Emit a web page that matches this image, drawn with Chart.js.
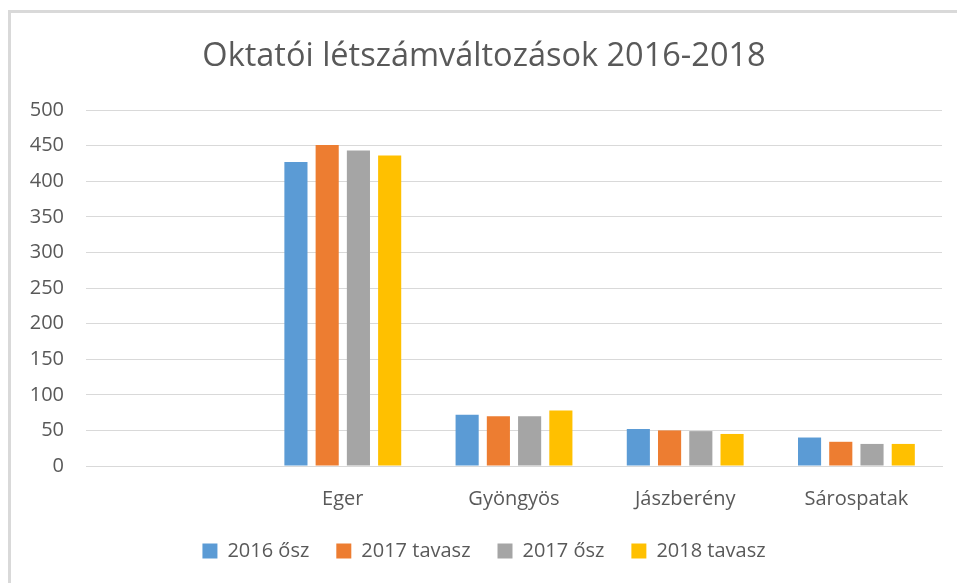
<!DOCTYPE html>
<html>
<head>
<meta charset="utf-8">
<script src="https://cdn.jsdelivr.net/npm/chart.js@4"></script>
<style>
  body { margin: 0; background: #fff; }
  #wrap { position: relative; width: 957px; height: 583px; overflow: hidden; }
  #frame { position: absolute; left: 8px; top: 10px; width: 1000px; height: 700px;
           border-left: 3px solid #d9d9d9; border-top: 3px solid #d9d9d9; }
  canvas { position: absolute; left: 0; top: 0; }
</style>
</head>
<body>
<div id="wrap">
  <div id="frame"></div>
  <canvas id="barChart" width="957" height="583"></canvas>
</div>
<script>
  // Data
  const categories = ['', 'Eger', 'Gyöngyös', 'Jászberény', 'Sárospatak'];
  const seriesNames = ['2016 ősz', '2017 tavasz', '2017 ősz', '2018 tavasz'];
  const fall2016 = [null, 427, 72, 52, 40];
  const spring2017 = [null, 451, 70, 50, 34];
  const fall2017 = [null, 443, 70, 49, 31];
  const spring2018 = [null, 436, 78, 45, 31];
  const yTicks = [0, 50, 100, 150, 200, 250, 300, 350, 400, 450, 500];

  const colors = ['#5B9BD5', '#ED7D31', '#A5A5A5', '#FFC000'];
  const textColor = '#595959';
  const fontFamily = '"Open Sans", sans-serif';

  const barCtx = document.getElementById('barChart').getContext('2d');
  const barChart = new Chart(barCtx, {
      type: 'bar',
      data: {
          labels: categories,
          datasets: [fall2016, spring2017, fall2017, spring2018].map((values, i) => ({
              label: seriesNames[i],
              data: values,
              backgroundColor: colors[i],
              borderWidth: 0,
              categoryPercentage: 0.73,
              barPercentage: 0.74
          }))
      },
      options: {
          responsive: false,
          animation: false,
          layout: {
              padding: { left: 26, right: 15, top: 0, bottom: 12 }
          },
          plugins: {
              title: {
                  display: true,
                  text: 'Oktatói létszámváltozások 2016-2018',
                  color: textColor,
                  font: { family: fontFamily, size: 32.5, weight: 'normal' },
                  padding: { top: 37, bottom: 34 }
              },
              legend: {
                  position: 'bottom',
                  labels: {
                      color: textColor,
                      font: { family: fontFamily, size: 20 },
                      boxWidth: 15,
                      boxHeight: 15,
                      padding: 27
                  }
              },
              tooltip: { enabled: false }
          },
          scales: {
              x: {
                  afterFit: (scale) => { scale.height = 48; },
                  grid: { display: false },
                  border: { color: '#d9d9d9', width: 1 },
                  ticks: {
                      color: textColor,
                      font: { family: fontFamily, size: 20 },
                      padding: 13
                  }
              },
              y: {
                  min: 0,
                  max: 500,
                  afterBuildTicks: (scale) => { scale.ticks = yTicks.map(v => ({ value: v })); },
                  afterFit: (scale) => { scale.width = 60; },
                  grid: { color: '#d9d9d9', lineWidth: 1, drawTicks: false },
                  border: { display: false },
                  ticks: {
                      color: textColor,
                      font: { family: fontFamily, size: 20 },
                      padding: 22
                  }
              }
          }
      }
  });
</script>
</body>
</html>
